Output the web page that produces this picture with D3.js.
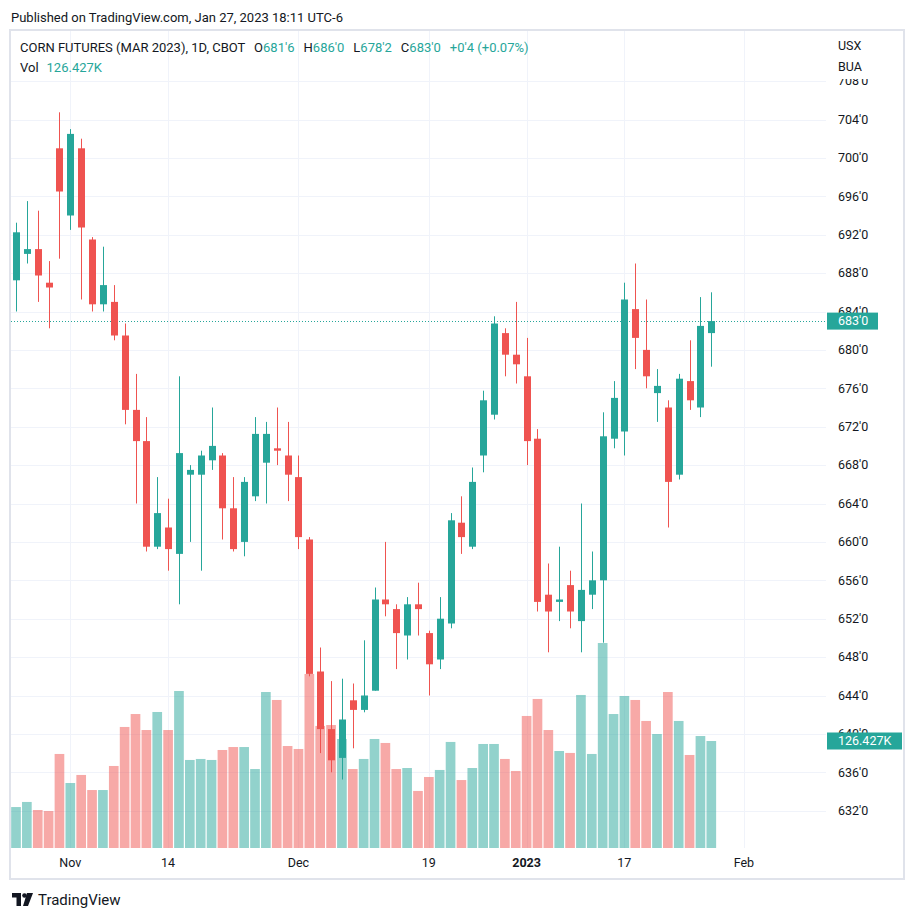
<!DOCTYPE html>
<html><head><meta charset="utf-8">
<script src="https://cdn.jsdelivr.net/npm/d3@7"></script>
<style>
body{margin:0;background:#fff}
svg{display:block}
text{font-family:Roboto,"Noto Sans",sans-serif}
</style>
</head><body>
<svg id="chart" width="916" height="919"></svg>
<script>
// ---------- DATA ----------
const dates = ["2022-10-25","2022-10-26","2022-10-27","2022-10-28","2022-10-31",
"2022-11-01","2022-11-02","2022-11-03","2022-11-04","2022-11-07","2022-11-08","2022-11-09","2022-11-10","2022-11-11",
"2022-11-14","2022-11-15","2022-11-16","2022-11-17","2022-11-18","2022-11-21","2022-11-22","2022-11-23","2022-11-25",
"2022-11-28","2022-11-29","2022-11-30","2022-12-01","2022-12-02","2022-12-05","2022-12-06","2022-12-07","2022-12-08",
"2022-12-09","2022-12-12","2022-12-13","2022-12-14","2022-12-15","2022-12-16","2022-12-19","2022-12-20","2022-12-21",
"2022-12-22","2022-12-23","2022-12-27","2022-12-28","2022-12-29","2022-12-30","2023-01-03","2023-01-04","2023-01-05",
"2023-01-06","2023-01-09","2023-01-10","2023-01-11","2023-01-12","2023-01-13","2023-01-17","2023-01-18","2023-01-19",
"2023-01-20","2023-01-23","2023-01-24","2023-01-25","2023-01-26","2023-01-27"];
const open  = [687.25,690.0,690.5,687.0,701.0, 694.0,701.0,691.5,684.75,685.0,681.5,673.75,670.5,659.5,
661.5,658.75,667.0,667.0,668.5,669.0,663.5,660.0,664.75, 668.25,669.75,669.0,666.75,660.25,646.5,640.5,637.5,643.5,
642.5,644.5,654.0,653.0,650.25,653.5,650.5,647.75,651.5, 662.0,659.5,669.0,673.25,681.75,679.5,677.25,670.75,654.5,
653.75,655.5,651.75,654.5,656.0,670.75,671.5,684.25,680.0, 675.5,674.0,667.0,676.75,674.0,681.75];
const high  = [693.25,695.5,694.5,689.25,704.75, 703.0,702.0,691.75,690.75,686.75,682.75,677.5,673.0,666.75,
664.5,677.25,668.0,669.5,674.0,669.25,666.75,666.75,673.0, 672.5,674.0,672.5,669.0,660.5,649.0,645.5,645.75,645.25,
649.75,655.25,660.0,653.5,654.25,655.75,650.75,654.25,663.0, 664.75,667.75,675.75,683.5,682.25,685.0,681.25,671.75,657.75,
659.5,657.0,664.0,659.0,673.5,676.75,687.0,689.0,685.25, 678.0,674.75,677.5,681.0,685.5,686.0];
const low   = [684.0,689.0,685.0,682.25,689.5, 692.5,685.25,684.0,684.0,681.0,672.25,664.0,659.0,659.25,
657.0,653.5,660.0,657.0,667.5,660.25,659.0,658.5,664.25, 664.0,668.0,664.25,659.25,646.0,638.0,636.0,635.25,638.5,
642.25,644.5,652.25,646.75,647.75,650.25,644.0,646.75,651.0, 658.75,659.25,667.25,672.75,677.25,676.5,668.0,652.75,648.5,
651.75,651.0,648.5,653.0,649.5,669.75,669.0,678.0,676.0, 672.5,661.5,666.5,673.75,673.0,678.25];
const close = [692.25,690.5,687.75,686.5,696.5, 702.5,692.75,684.75,686.75,681.5,673.75,670.5,659.5,663.0,
659.25,669.25,667.5,669.0,670.0,663.5,659.25,666.25,671.25, 671.25,669.5,667.0,660.5,646.25,640.5,637.25,641.5,642.5,
644.0,654.0,653.5,650.5,653.5,653.0,647.25,652.0,662.25, 660.5,666.25,674.75,682.75,679.5,678.5,670.5,653.75,652.75,
654.0,652.75,655.0,656.0,671.0,675.0,685.25,681.25,677.25, 676.25,666.25,677.0,674.75,682.5,683.0];
// volume in thousands
const volume = [48.4,54.4,44.9,43.7,111.1, 76.8,86.3,68.5,68.5,96.9,143.0,158.3,139.4,160.7,
139.4,185.5,104.0,105.2,104.0,115.8,119.3,119.3,93.3, 184.3,174.9,120.5,117.0,205.6,144.2,145.3,128.8,93.3,
105.2,128.8,124.1,93.3,94.5,67.4,83.9,92.2,125.3, 80.3,94.5,122.9,122.9,105.2,91.0,156.0,176.1,139.4,
114.6,112.3,180.8,111.1,242.2,158.3,179.6,174.9,150.1, 134.7,184.3,150.1,109.9,132.3,126.427];
const priceTicks = [708,704,700,696,692,688,684,680,676,672,668,664,660,656,652,648,644,640,636,632];
const timeTickLabels = ["Nov","14","Dec","19","2023","17","Feb"];
const timeTickDates  = ["2022-11-01","2022-11-14","2022-12-01","2022-12-19","2023-01-03","2023-01-17","2023-02-01"];
const timeTickBold   = [false,false,false,false,true,false,false];

// ---------- LAYOUT ----------
const W = 916, H = 919;
const plotL = 11, plotR = 826, plotT = 31, plotB = 848;
const GREEN = "#26a69a", RED = "#ef5350", TEXT = "#131722";
const svg = d3.select("#chart");
svg.append("rect").attr("width", W).attr("height", H).attr("fill", "#fff");

const x = d3.scaleLinear().domain([0, dates.length - 1]).range([16, 711.3]);
const y = d3.scaleLinear().domain([632, 704]).range([810.7, 119.5]);
const yv = d3.scaleLinear().domain([0, volume[volume.length - 1]]).range([plotB, 741]);
const step = x(1) - x(0);

function dateIndex(ds) {
  const i = dates.indexOf(ds);
  if (i >= 0) return i;
  // extrapolate by weekdays after the last date
  let d = new Date(dates[dates.length - 1] + "T12:00:00Z"), target = new Date(ds + "T12:00:00Z"), n = dates.length - 1;
  while (d < target) { d = new Date(d.getTime() + 864e5); const wd = d.getUTCDay(); if (wd !== 0 && wd !== 6) n++; }
  return n;
}
const fmt = p => { const f = Math.floor(p + 1e-9); return f + "'" + Math.round((p - f) * 8); };

const data = dates.map((d, i) => ({ i, d, o: open[i], h: high[i], l: low[i], c: close[i], v: volume[i] }));

// clip
svg.append("clipPath").attr("id", "plotclip").append("rect")
  .attr("x", plotL).attr("y", plotT).attr("width", plotR - plotL).attr("height", plotB - plotT);

// grid
const grid = svg.append("g").attr("stroke", "#f0f3fa").attr("stroke-width", 1);
grid.selectAll("line.h").data(priceTicks).join("line")
  .attr("x1", plotL).attr("x2", plotR)
  .attr("y1", d => Math.round(y(d)) + 0.5).attr("y2", d => Math.round(y(d)) + 0.5);
grid.selectAll("line.v").data(timeTickDates).join("line")
  .attr("y1", plotT).attr("y2", plotB)
  .attr("x1", d => Math.round(x(dateIndex(d))) + 0.5).attr("x2", d => Math.round(x(dateIndex(d))) + 0.5);

const plot = svg.append("g").attr("clip-path", "url(#plotclip)");

// volume
plot.append("g").selectAll("rect").data(data).join("rect")
  .attr("x", d => x(d.i) - (step - 1.2) / 2)
  .attr("width", step - 1.2)
  .attr("y", d => yv(d.v))
  .attr("height", d => plotB - yv(d.v))
  .attr("fill", d => d.c >= d.o ? GREEN : RED)
  .attr("fill-opacity", 0.5);

// last price dotted line
plot.append("line")
  .attr("x1", plotL).attr("x2", plotR)
  .attr("y1", Math.round(y(close[close.length - 1])) + 0.5).attr("y2", Math.round(y(close[close.length - 1])) + 0.5)
  .attr("stroke", GREEN).attr("stroke-width", 1).attr("stroke-dasharray", "1,2");

// candles
const cg = plot.append("g");
cg.selectAll("line").data(data).join("line")
  .attr("x1", d => Math.round(x(d.i)) + 0.5).attr("x2", d => Math.round(x(d.i)) + 0.5)
  .attr("y1", d => y(d.h)).attr("y2", d => y(d.l))
  .attr("stroke", d => d.c >= d.o ? GREEN : RED).attr("stroke-width", 1);
cg.selectAll("rect").data(data).join("rect")
  .attr("x", d => Math.round(x(d.i)) + 0.5 - 3.5)
  .attr("width", 7)
  .attr("y", d => y(Math.max(d.o, d.c)))
  .attr("height", d => Math.max(1, Math.abs(y(d.o) - y(d.c))))
  .attr("fill", d => d.c >= d.o ? GREEN : RED);

// price axis labels
svg.append("g").selectAll("text").data(priceTicks).join("text")
  .attr("x", 838).attr("y", d => y(d)).attr("dy", "0.35em")
  .attr("font-size", 12.5).attr("fill", TEXT).text(d => fmt(d));
// cover top of price axis and write currency/unit
svg.append("rect").attr("x", 827).attr("y", plotT).attr("width", 76).attr("height", 48).attr("fill", "#fff");
svg.append("text").attr("x", 838).attr("y", 46).attr("dy", "0.35em").attr("font-size", 12.5).attr("fill", TEXT).text("USX");
svg.append("text").attr("x", 838).attr("y", 67).attr("dy", "0.35em").attr("font-size", 12.5).attr("fill", TEXT).text("BUA");

// badges
const lastC = close[close.length - 1], lastV = volume[volume.length - 1];
function badge(yy, w, label) {
  svg.append("rect").attr("x", 827).attr("y", yy - 8.5).attr("width", w).attr("height", 17).attr("fill", GREEN);
  svg.append("text").attr("x", 838).attr("y", yy).attr("dy", "0.35em").attr("font-size", 12.5)
    .attr("fill", "#fff").text(label);
}
badge(y(lastC), 51, fmt(lastC));
badge(yv(lastV), 75, lastV.toFixed(3) + "K");

// time axis
svg.append("g").selectAll("text").data(timeTickLabels).join("text")
  .attr("x", (d, i) => x(dateIndex(timeTickDates[i])))
  .attr("y", 863).attr("dy", "0.35em").attr("text-anchor", "middle")
  .attr("font-size", 12.5).attr("fill", TEXT)
  .attr("font-weight", (d, i) => timeTickBold[i] ? "bold" : "normal")
  .text(d => d);

// frame
svg.append("rect").attr("x", 10).attr("y", 30).attr("width", 894).attr("height", 849)
  .attr("fill", "none").attr("stroke", "#e0e3eb").attr("stroke-width", 2);

// header
svg.append("text").attr("x", 11).attr("y", 17).attr("dy", "0.35em").attr("font-size", 13).attr("fill", TEXT)
  .text("Published on TradingView.com, Jan 27, 2023 18:11 UTC-6");
const last = data[data.length - 1], prev = data[data.length - 2];
const chg = last.c - prev.c;
const legend = svg.append("text").attr("x", 20).attr("y", 47).attr("dy", "0.35em").attr("font-size", 13).attr("fill", TEXT);
legend.append("tspan").text("CORN FUTURES (MAR 2023), 1D, CBOT");
[["O", last.o], ["H", last.h], ["L", last.l], ["C", last.c]].forEach(([k, v]) => {
  legend.append("tspan").attr("dx", 9).text(k);
  legend.append("tspan").attr("fill", GREEN).text(fmt(v));
});
legend.append("tspan").attr("dx", 9).attr("fill", GREEN)
  .text("+" + fmt(chg) + " (+" + (chg / prev.c * 100).toFixed(2) + "%)");
const vl = svg.append("text").attr("x", 20).attr("y", 67).attr("dy", "0.35em").attr("font-size", 13).attr("fill", TEXT);
vl.append("tspan").text("Vol");
vl.append("tspan").attr("dx", 8).attr("fill", GREEN).text(lastV.toFixed(3) + "K");

// footer logo
const logo = svg.append("g").attr("fill", TEXT);
logo.append("path").attr("d", "M12,893 H21 V906 H16.5 V897.5 H12 Z");
logo.append("circle").attr("cx", 24.5).attr("cy", 895.5).attr("r", 2.3);
logo.append("path").attr("d", "M27,893 H33 L28,906 H23 Z");
svg.append("text").attr("x", 38).attr("y", 899.5).attr("dy", "0.35em").attr("font-size", 15).attr("fill", TEXT).text("TradingView");
</script>
</body></html>
